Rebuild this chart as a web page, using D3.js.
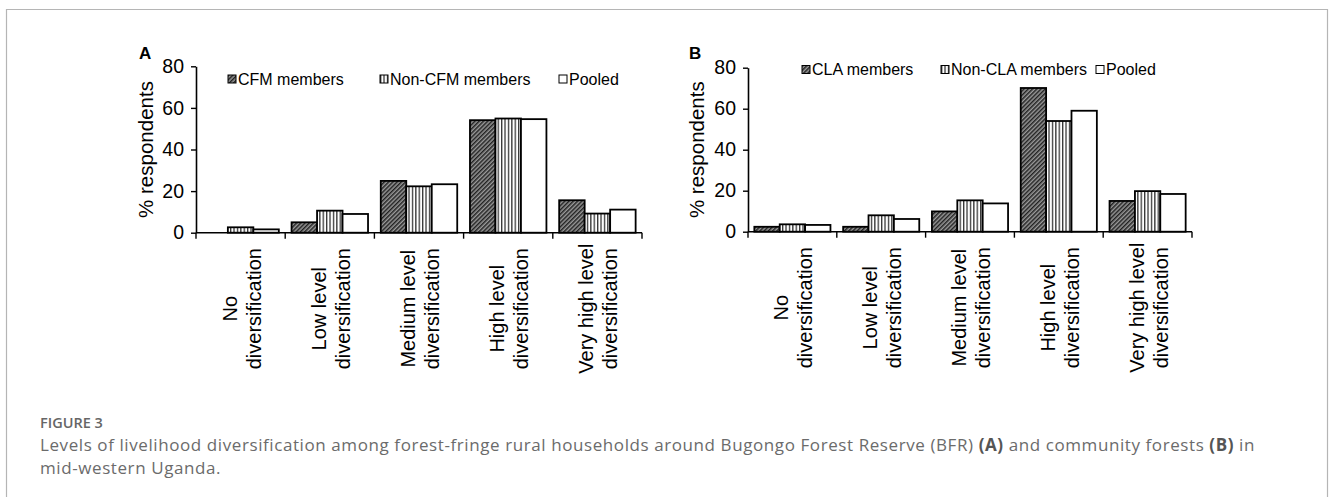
<!DOCTYPE html>
<html>
<head>
<meta charset="utf-8">
<script src="https://cdn.jsdelivr.net/npm/d3@7"></script>
<style>
  body { margin: 0; background: #fff; }
  svg { display: block; }
</style>
</head>
<body>
<div id="chart"></div>
<script>
// ---- data ----
const categories = ["No diversification", "Low level diversification", "Medium level diversification",
                    "High level diversification", "Very high level diversification"];
const categoryLines = [["No", "diversification"], ["Low level", "diversification"],
                       ["Medium level", "diversification"], ["High level", "diversification"],
                       ["Very high level", "diversification"]];

const seriesA = ["CFM members", "Non-CFM members", "Pooled"];
const cfmMembers = [0, 5.0, 24.9, 54.1, 15.6];
const nonCfmMembers = [2.6, 10.6, 22.3, 54.9, 9.2];
const pooledA = [1.6, 9.0, 23.3, 54.6, 11.1];

const seriesB = ["CLA members", "Non-CLA members", "Pooled"];
const claMembers = [2.4, 2.4, 9.9, 70.1, 15.0];
const nonClaMembers = [3.6, 8.0, 15.3, 54.0, 19.8];
const pooledB = [3.3, 6.2, 13.8, 59.0, 18.4];

const yTicks = [0, 20, 40, 60, 80];

const width = 1330, height = 497;
const font = "'Liberation Sans', Arial, sans-serif";

const svg = d3.select('#chart').append('svg')
    .attr('width', width)
    .attr('height', height);

// frame around figure
svg.append('path')
    .attr('d', `M6.5,${height + 2}V9.5H1327.5V${height + 2}`)
    .attr('fill', 'none')
    .attr('stroke', '#b5b5b5')
    .attr('stroke-width', 1.2);

// fill patterns
const defs = svg.append('defs');
const diag = defs.append('pattern')
    .attr('id', 'diag')
    .attr('patternUnits', 'userSpaceOnUse')
    .attr('width', 3).attr('height', 3)
    .attr('patternTransform', 'rotate(45)');
diag.append('rect').attr('width', 3).attr('height', 3).attr('fill', '#9a9a9a');
diag.append('rect').attr('width', 1.5).attr('height', 3).attr('fill', '#222');

const vert = defs.append('pattern')
    .attr('id', 'vert')
    .attr('patternUnits', 'userSpaceOnUse')
    .attr('width', 3.4).attr('height', 4);
vert.append('rect').attr('width', 3.4).attr('height', 4).attr('fill', '#fff');
vert.append('rect').attr('width', 1.3).attr('height', 4).attr('fill', '#333');

const fills = ['url(#diag)', 'url(#vert)', '#fff'];

function drawPanel(p) {
    const g = svg.append('g');

    let x0 = d3.scaleBand(categories, [p.left, p.right]).padding(0);
    let x1 = d3.scaleBand(p.series, [0, x0.bandwidth()]).paddingInner(0).paddingOuter(0.25);
    let y = d3.scaleLinear([0, 80], [p.bottom, p.top]);

    let rows = categories.map((c, i) => ({cat: c, vals: p.values.map(v => v[i])}));

    // bars
    g.selectAll('g.cat')
        .data(rows)
        .join('g')
        .attr('transform', d => `translate(${x0(d.cat)},0)`)
        .selectAll('rect')
        .data(d => d.vals.map((v, j) => ({s: p.series[j], v: v, j: j})))
        .join('rect')
        .filter(d => d.v > 0)
        .attr('x', d => x1(d.s))
        .attr('y', d => y(d.v))
        .attr('width', x1.bandwidth())
        .attr('height', d => y(0) - y(d.v))
        .attr('fill', d => fills[d.j])
        .attr('stroke', '#000')
        .attr('stroke-width', 1.8);

    // y axis
    let axisY = g.append('g')
        .attr('transform', `translate(${p.left},0)`)
        .call(d3.axisLeft(y).tickValues(yTicks).tickSize(5).tickPadding(7).tickSizeOuter(0));
    axisY.select('.domain').attr('stroke-width', 1.6);
    axisY.selectAll('.tick line').attr('stroke-width', 1.4);
    axisY.selectAll('text').attr('font-family', font).attr('font-size', 19.5).attr('fill', '#000');

    // x axis with ticks at category boundaries
    let axisX = g.append('g')
        .attr('transform', `translate(0,${p.bottom})`);
    axisX.append('line')
        .attr('x1', p.left).attr('x2', p.right)
        .attr('stroke', '#000').attr('stroke-width', 1.6);
    let bounds = categories.map(c => x0(c)).concat([p.right]);
    axisX.selectAll('line.tk')
        .data(bounds)
        .join('line')
        .attr('class', 'tk')
        .attr('x1', d => d).attr('x2', d => d)
        .attr('y1', 0).attr('y2', 6)
        .attr('stroke', '#000').attr('stroke-width', 1.4);

    // category labels, rotated
    axisX.selectAll('text.cat')
        .data(categories)
        .join('text')
        .attr('class', 'cat')
        .attr('transform', (d, i) => `translate(${x0(d) + x0.bandwidth() / 2 + 1},76) rotate(-90)`)
        .attr('text-anchor', 'middle')
        .attr('font-family', font)
        .attr('font-size', 20)
        .attr('fill', '#000')
        .each(function (d, i) {
            let lines = categoryLines[i];
            d3.select(this).selectAll('tspan')
                .data(lines)
                .join('tspan')
                .attr('x', 0)
                .attr('y', (l, k) => (k - (lines.length - 1) / 2) * 24)
                .attr('dy', '0.35em')
                .text(l => l);
        });

    // y title
    g.append('text')
        .attr('transform', `translate(${p.titleX},${(p.top + p.bottom) / 2}) rotate(-90)`)
        .attr('text-anchor', 'middle')
        .attr('dy', '0.35em')
        .attr('font-family', font)
        .attr('font-size', 20.5)
        .text('% respondents');

    // panel letter
    g.append('text')
        .attr('x', p.letterX).attr('y', 58.5)
        .attr('font-family', font)
        .attr('font-weight', 'bold')
        .attr('font-size', 17)
        .text(p.letter);

    // legend
    let leg = g.selectAll('g.leg')
        .data(p.series)
        .join('g')
        .attr('transform', (d, i) => `translate(${p.legendX[i]},${p.legendY})`);
    leg.append('rect')
        .attr('x', 0).attr('y', -4)
        .attr('width', 8).attr('height', 8)
        .attr('fill', (d, i) => fills[i])
        .attr('stroke', '#000').attr('stroke-width', 1);
    leg.append('text')
        .attr('x', 10)
        .attr('dy', '0.35em')
        .attr('font-family', font)
        .attr('font-size', 16)
        .text(d => d);
}

drawPanel({
    letter: 'A', letterX: 139,
    left: 196, right: 642, top: 66.3, bottom: 232.7, titleX: 145.5,
    series: seriesA, values: [cfmMembers, nonCfmMembers, pooledA],
    legendX: [228, 380, 559], legendY: 79
});

drawPanel({
    letter: 'B', letterX: 689,
    left: 748, right: 1192, top: 67.7, bottom: 231.7, titleX: 697,
    series: seriesB, values: [claMembers, nonClaMembers, pooledB],
    legendX: [802, 941, 1096], legendY: 69.5
});

// caption
const capFont = "'Open Sans', 'Noto Sans', sans-serif";
svg.append('text')
    .attr('x', 40).attr('y', 428)
    .attr('font-family', capFont)
    .attr('font-weight', 600)
    .attr('font-size', 14.5)
    .attr('fill', '#666')
    .text('FIGURE 3');

const caption = svg.append('text')
    .attr('font-family', capFont)
    .attr('font-size', 17)
    .attr('fill', '#6b6b6b');
const line1 = caption.append('tspan').attr('x', 40).attr('y', 451);
line1.append('tspan').text('Levels of livelihood diversification among forest-fringe rural households around Bugongo Forest Reserve (BFR) ');
line1.append('tspan').attr('font-weight', 'bold').attr('fill', '#555').text('(A)');
line1.append('tspan').text(' and community forests ');
line1.append('tspan').attr('font-weight', 'bold').attr('fill', '#555').text('(B)');
line1.append('tspan').text(' in');
caption.append('tspan').attr('x', 40).attr('y', 474).text('mid-western Uganda.');

// stretch the caption a little so its first line spans the same width as the original
const w1 = line1.node().getComputedTextLength();
const n1 = line1.text().length;
caption.attr('letter-spacing', Math.max(0, (1215 - w1) / n1));
</script>
</body>
</html>
